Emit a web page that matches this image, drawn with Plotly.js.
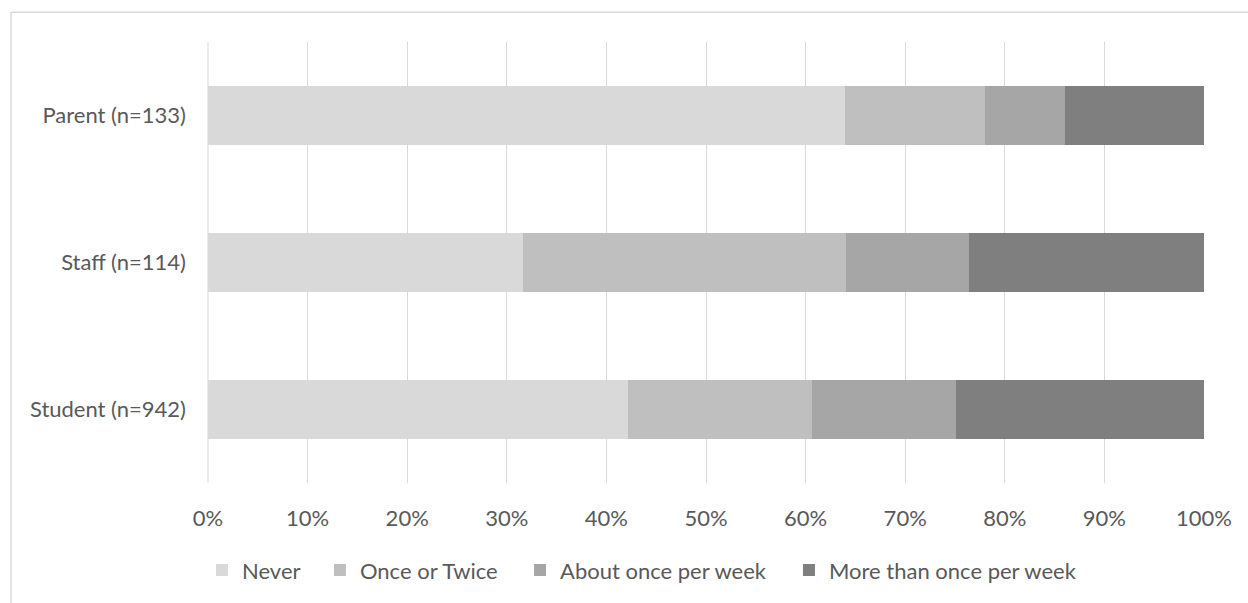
<!DOCTYPE html>
<html>
<head>
<meta charset="utf-8">
<script src="https://cdn.plot.ly/plotly-3.0.1.min.js"></script>
<style>html,body{margin:0;padding:0;background:#fff;}#chart{width:1248px;height:603px;}</style>
</head>
<body>
<div id="chart"></div>
<script>
const categories = ["Student (n=942)", "Staff (n=114)", "Parent (n=133)"];
const seriesNames = ["Never", "Once or Twice", "About once per week", "More than once per week"];
const never = [42.2, 31.6, 64.0];
const onceOrTwice = [18.4, 32.5, 14.0];
const aboutOncePerWeek = [14.5, 12.3, 8.0];
const moreThanOncePerWeek = [24.9, 23.6, 14.0];
const tickVals = [0, 10, 20, 30, 40, 50, 60, 70, 80, 90, 100];
const tickText = ["0%", "10%", "20%", "30%", "40%", "50%", "60%", "70%", "80%", "90%", "100%"];

const colors = ["#d9d9d9", "#bfbfbf", "#a6a6a6", "#7f7f7f"];
const seriesValues = [never, onceOrTwice, aboutOncePerWeek, moreThanOncePerWeek];
const legendIds = ["legend", "legend2", "legend3", "legend4"];
const legendX = [-0.006, 0.1124, 0.3133, 0.5833];

const FONT = "Lato, 'Open Sans', sans-serif";
const TXT = "#595959";
const FS = 22;

const traces = seriesNames.map((name, i) => ({
  type: "bar",
  orientation: "h",
  name: name,
  y: categories,
  x: seriesValues[i],
  marker: { color: colors[i], line: { width: 0 } },
  legend: legendIds[i],
  hoverinfo: "x+name"
}));

const layout = {
  width: 1248,
  height: 603,
  margin: { l: 208, r: 44, t: 42, b: 117 },
  paper_bgcolor: "#ffffff",
  plot_bgcolor: "#ffffff",
  barmode: "stack",
  bargap: 0.6,
  font: { family: FONT, size: FS, color: TXT },
  xaxis: {
    range: [0, 100],
    tickvals: tickVals,
    ticktext: tickText,
    showgrid: true,
    gridcolor: "#d9d9d9",
    gridwidth: 1,
    zeroline: false,
    showline: false,
    ticks: "",
    ticklabelstandoff: 20,
    tickfont: { family: FONT, size: FS, color: TXT },
    fixedrange: true
  },
  yaxis: {
    categoryorder: "array",
    categoryarray: categories,
    showgrid: false,
    zeroline: false,
    showline: false,
    ticks: "",
    ticklabelstandoff: 21,
    tickfont: { family: FONT, size: FS, color: TXT },
    fixedrange: true
  },
  shapes: [
    { type: "line", xref: "paper", yref: "paper", x0: -0.1978, x1: 1.2, y0: 1.0676, y1: 1.0676, line: { color: "#d9d9d9", width: 1.5 } },
    { type: "line", xref: "paper", yref: "paper", x0: -0.1978, x1: -0.1978, y0: 1.0676, y1: -0.4, line: { color: "#d9d9d9", width: 1.5 } },
    { type: "line", xref: "paper", yref: "paper", x0: 0, x1: 0, y0: 0, y1: 1, line: { color: "#d9d9d9", width: 1 }, layer: "below" }
  ],
  showlegend: true
};

legendIds.forEach((id, i) => {
  layout[id] = {
    orientation: "h",
    x: legendX[i],
    xanchor: "left",
    y: -0.198,
    yanchor: "middle",
    bgcolor: "rgba(0,0,0,0)",
    borderwidth: 0,
    font: { family: FONT, size: FS, color: TXT }
  };
});

Plotly.newPlot("chart", traces, layout, { displayModeBar: false, staticPlot: true });
</script>
</body>
</html>
